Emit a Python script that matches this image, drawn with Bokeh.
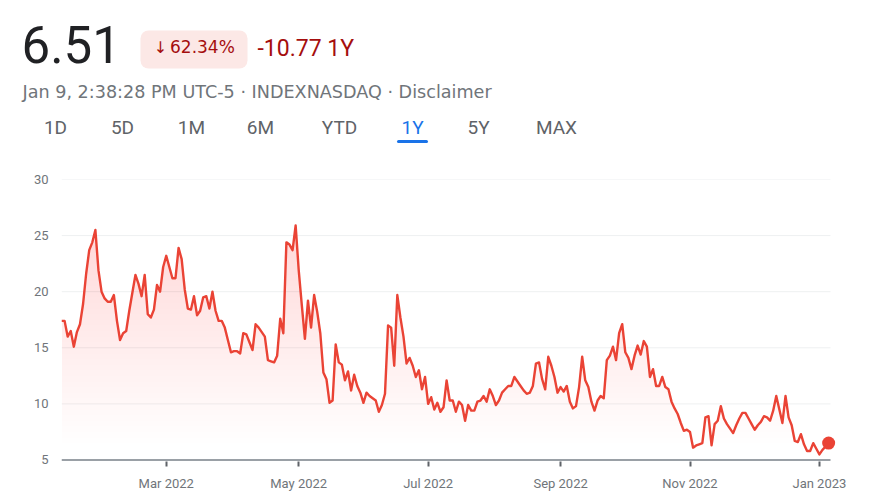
import numpy as np
from bokeh.plotting import figure
from bokeh.models import Range1d, FixedTicker
from bokeh.layouts import column
from bokeh.core.properties import value
from bokeh.embed import file_html
from bokeh.resources import INLINE

# ---------------- data (trading-day index, VIX-like value) ----------------
day = list(range(0, 250))
vix = [
    17.4, 17.4, 16.0, 16.5, 15.1, 16.4, 17.1, 18.9, 21.6, 23.7,
    24.4, 25.5, 21.9, 20.0, 19.4, 19.1, 19.1, 19.7, 17.4, 15.7,
    16.3, 16.5, 18.3, 19.9, 21.5, 20.7, 19.6, 21.5, 18.0, 17.7,
    18.4, 20.6, 20.0, 22.2, 23.2, 22.2, 21.2, 21.2, 23.9, 22.9,
    20.2, 18.5, 18.4, 19.6, 17.9, 18.3, 19.5, 19.6, 18.5, 20.0,
    18.3, 17.4, 17.4, 16.8, 15.7, 14.6, 14.7, 14.7, 14.5, 16.3,
    16.2, 15.5, 14.8, 17.1, 16.8, 16.4, 16.0, 13.9, 13.8, 13.7,
    14.3, 17.6, 16.3, 24.4, 24.2, 23.7, 25.9, 21.9, 18.8, 15.8,
    19.2, 16.8, 19.7, 18.2, 16.3, 12.8, 12.2, 10.1, 10.3, 15.3,
    13.7, 13.5, 12.1, 12.9, 11.2, 12.6, 11.6, 11.0, 10.1, 11.0,
    10.7, 10.5, 10.3, 9.3, 9.9, 10.9, 17.0, 16.8, 13.4, 19.7,
    17.7, 16.0, 13.6, 14.1, 13.4, 12.4, 13.0, 11.3, 12.4, 10.0,
    10.6, 9.5, 10.1, 9.3, 9.7, 12.1, 10.3, 10.3, 9.3, 10.2,
    9.9, 8.5, 9.9, 9.4, 9.4, 10.2, 10.3, 10.7, 10.2, 11.3,
    10.7, 9.9, 10.3, 11.0, 11.3, 11.6, 11.6, 12.4, 12.0, 11.6,
    11.2, 10.9, 11.0, 11.6, 13.6, 13.7, 12.2, 11.3, 14.2, 13.4,
    12.4, 11.0, 11.5, 11.1, 11.6, 10.2, 9.6, 9.8, 11.5, 14.2,
    12.1, 11.5, 10.2, 9.4, 10.3, 10.7, 10.5, 13.9, 14.3, 15.1,
    13.9, 16.3, 17.1, 14.6, 14.1, 13.1, 14.3, 15.2, 14.4, 15.6,
    15.1, 12.4, 13.1, 11.6, 11.6, 12.4, 11.5, 11.3, 10.2, 9.6,
    9.1, 8.3, 7.6, 7.7, 7.5, 6.1, 6.3, 6.4, 6.5, 8.8,
    8.9, 6.3, 8.2, 8.5, 9.8, 8.7, 8.2, 7.8, 7.4, 8.1,
    8.7, 9.2, 9.2, 8.7, 8.2, 7.7, 8.1, 8.4, 8.9, 8.8,
    8.5, 9.4, 10.7, 9.5, 8.3, 10.7, 8.8, 8.1, 6.7, 6.6,
    7.3, 6.4, 5.8, 5.8, 6.5, 6.0, 5.5, 5.9, 6.2, 6.51,
]

tick_days = [34, 77, 119, 162, 204, 246]
tick_labels = ["Mar 2022", "May 2022", "Jul 2022", "Sep 2022", "Nov 2022", "Jan 2023"]
y_ticks = [5, 10, 15, 20, 25, 30]

last_price = "6.51"
change_arrow = "\u2193"
change_pct = "62.34%"
change_abs = "-10.77 1Y"
subtitle = "Jan 9, 2:38:28 PM UTC-5 \u00b7 INDEXNASDAQ \u00b7 Disclaimer"
tabs = ["1D", "5D", "1M", "6M", "YTD", "1Y", "5Y", "MAX"]
active_tab = "1Y"

RED = "#ea4335"
FILL = "#e84848"
DARK_RED = "#a50e0e"
GRAY = "#70757a"
FONT = value("Roboto")
WIDE = value("DejaVu Sans")

# ---------------- header ----------------
h = figure(width=875, height=160, x_range=Range1d(0, 875), y_range=Range1d(160, 0),
           x_axis_type=None, y_axis_type=None, output_backend="svg",
           toolbar_location=None, min_border=0)
h.frame_align = False
h.grid.visible = False
h.outline_line_color = None

h.text(x=[21], y=[43.5], text=[last_price], text_font=FONT, text_font_size="51px",
       text_color="#202124", text_baseline="middle")
h.quad(left=[140], right=[247], top=[30], bottom=[68], fill_color="#fce8e6",
       line_color=None, border_radius=8)
h.text(x=[160], y=[46.5], text=[change_arrow], text_font=WIDE, text_font_size="16px",
       text_color=DARK_RED, text_align="center", text_baseline="middle")
h.text(x=[169.5], y=[46.5], text=[change_pct], text_font=WIDE, text_font_size="17px",
       text_color=DARK_RED, text_baseline="middle")
h.text(x=[257], y=[48], text=[change_abs], text_font=FONT, text_font_size="23px",
       text_color=DARK_RED, text_baseline="middle")
h.text(x=[22], y=[91], text=[subtitle], text_font=WIDE, text_font_size="17.6px",
       text_color=GRAY, text_baseline="middle")

tab_centers = [55, 122, 191, 260, 339, 412, 478, 556]
h.text(x=tab_centers, y=[127] * len(tabs), text=tabs, text_font=FONT,
       text_font_size="19px",
       text_color=["#1a73e8" if t == active_tab else "#5f6368" for t in tabs],
       text_align="center", text_baseline="middle")
ai = tabs.index(active_tab)
h.quad(left=[tab_centers[ai] - 15.5], right=[tab_centers[ai] + 15.5], top=[139.5],
       bottom=[142.5], fill_color="#1a73e8", line_color=None, border_radius=2)

# ---------------- chart ----------------
x_end = day[-1] + 0.6
p = figure(width=875, height=343, x_range=Range1d(0, x_end + 2.6),
           y_range=Range1d(5 - 1.5 / 11.2, 30),
           output_backend="svg", toolbar_location=None,
           min_border_left=61, min_border_right=37, min_border_top=19,
           min_border_bottom=42)
p.frame_align = False
p.outline_line_color = None
p.grid.visible = False

# horizontal grid lines and baseline, drawn across the data span
grid_y = y_ticks[1:]
p.segment(x0=[0] * len(grid_y), x1=[x_end] * len(grid_y), y0=grid_y, y1=grid_y,
          line_color="#eef0f1", line_width=1)

vix_arr = np.array(vix)
for lo in np.arange(6.5, 26.5, 0.5):
    p.varea(x=day, y1=lo, y2=np.maximum(vix_arr, lo), fill_color=FILL,
            fill_alpha=0.0088)

p.segment(x0=[0], x1=[x_end], y0=[y_ticks[0]], y1=[y_ticks[0]],
          line_color="#9aa0a6", line_width=2)

p.line(day, vix, line_color=RED, line_width=2.4, line_join="round")
p.scatter(x=[day[-1]], y=[vix[-1]], size=13, fill_color=RED, line_color=None)

p.yaxis.ticker = FixedTicker(ticks=y_ticks)
p.yaxis.axis_line_color = None
p.yaxis.major_tick_line_color = None
p.yaxis.minor_tick_line_color = None
p.yaxis.major_label_text_color = GRAY
p.yaxis.major_label_text_font = "Roboto"
p.yaxis.major_label_text_font_size = "13px"
p.yaxis.major_label_standoff = 7

p.xaxis.ticker = FixedTicker(ticks=tick_days)
p.xaxis.major_label_overrides = {d: l for d, l in zip(tick_days, tick_labels)}
p.xaxis.axis_line_color = None
p.xaxis.major_tick_in = 0
p.xaxis.major_tick_out = 5
p.xaxis.major_tick_line_width = 2
p.xaxis.major_tick_line_color = "#5f6368"
p.xaxis.minor_tick_line_color = None
p.xaxis.major_label_text_color = GRAY
p.xaxis.major_label_text_font = "Roboto"
p.xaxis.major_label_text_font_size = "13px"
p.xaxis.major_label_standoff = 9

layout = column(h, p, spacing=0)
open("out.html", "w").write(file_html(layout, INLINE))
